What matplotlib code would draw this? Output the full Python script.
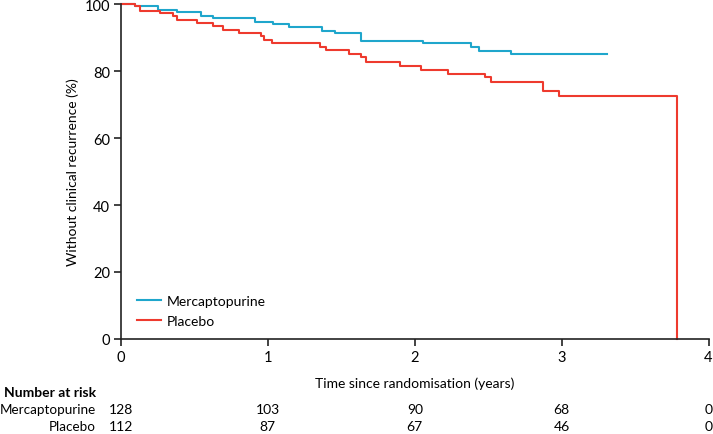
import matplotlib
matplotlib.use("Agg")
import matplotlib.pyplot as plt

plt.rcParams['font.family'] = ['Lato', 'DejaVu Sans']

# Kaplan-Meier steps (time in years, survival %)
merc_t = [0, 0.095, 0.25, 0.384, 0.545, 0.624, 0.915, 1.038, 1.144, 1.367,
          1.458, 1.635, 2.055, 2.382, 2.435, 2.655, 3.31]
merc_s = [100, 99.3, 98.3, 97.5, 96.5, 95.7, 94.7, 94.0, 93.0, 92.0,
          91.2, 89.0, 88.3, 87.1, 86.0, 85.0, 85.0]

plac_t = [0, 0.095, 0.129, 0.266, 0.352, 0.384, 0.516, 0.629, 0.693, 0.804,
          0.952, 0.974, 1.025, 1.356, 1.396, 1.553, 1.635, 1.667, 1.901, 2.044,
          2.225, 2.475, 2.518, 2.873, 2.982, 3.785]
plac_s = [100, 99.3, 98.0, 97.3, 96.5, 95.3, 94.3, 93.5, 92.3, 91.3,
          90.4, 89.4, 88.4, 87.3, 86.4, 85.1, 84.1, 82.8, 81.6, 80.4,
          79.2, 78.1, 76.7, 74.1, 72.6, 0]

risk_times = [0, 1, 2, 3, 4]
risk_merc = [128, 103, 90, 68, 0]
risk_plac = [112, 87, 67, 46, 0]

blue = "#1fa6cc"
red = "#ee3a2e"

fig = plt.figure(figsize=(7.13, 4.35), dpi=100)
ax = fig.add_axes([121/713, 95/435, 587.5/713, 335/435])

ax.step(merc_t, merc_s, where='post', color=blue, lw=1.5, label='Mercaptopurine', clip_on=False)
ax.step(plac_t, plac_s, where='post', color=red, lw=1.5, label='Placebo', clip_on=False)

ax.set_xlim(0, 4)
ax.set_ylim(0, 100)
ax.set_xticks(range(5))
ax.set_yticks(range(0, 101, 20))
for s in ['top', 'right']:
    ax.spines[s].set_visible(False)
for s in ['left', 'bottom']:
    ax.spines[s].set_color('#222222')
    ax.spines[s].set_linewidth(1.2)
ax.tick_params(direction='out', length=5, width=1.2, color='#222222', labelsize=10.5, pad=3)
ax.set_ylabel('Without clinical recurrence (%)', fontsize=10)
ax.set_xlabel('Time since randomisation (years)', fontsize=10, labelpad=9)

ax.legend(loc='center left', bbox_to_anchor=(0.018, 0.084), borderaxespad=0, frameon=False,
          fontsize=10, handlelength=1.7, handletextpad=0.4, labelspacing=0.55)

# number at risk table
fig.text(96/713, 1 - 393/435, 'Number at risk', ha='right', va='center', fontsize=10, fontweight='bold')
fig.text(96/713, 1 - 410/435, 'Mercaptopurine', ha='right', va='center', fontsize=9.7)
fig.text(96/713, 1 - 427/435, 'Placebo', ha='right', va='center', fontsize=9.7)
for t, m, p in zip(risk_times, risk_merc, risk_plac):
    x = ax.transData.transform((t, 0))[0]
    xf = fig.transFigure.inverted().transform((x, 0))[0]
    fig.text(xf, 1 - 410/435, str(m), ha='center', va='center', fontsize=10)
    fig.text(xf, 1 - 427/435, str(p), ha='center', va='center', fontsize=10)

fig.savefig('out.png', dpi=100)
